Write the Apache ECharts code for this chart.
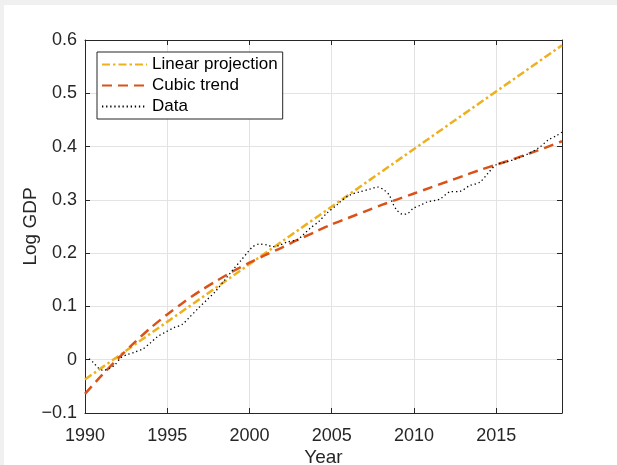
<!DOCTYPE html>
<html><head><meta charset="utf-8">
<script src="https://cdn.jsdelivr.net/npm/echarts@6/dist/echarts.min.js"></script>
<style>
html,body{margin:0;padding:0;background:#f0f0f0;}
#bg{position:absolute;left:4px;top:5px;width:613px;height:460px;background:#fff}
#chart{position:absolute;left:0;top:0;width:617px;height:465px}
</style>
</head><body><div id="bg"></div><div id="chart"></div>
<script>
// ---- data ----
const linearYears = [1990, 2019];
const linearValues = [-0.037, 0.590];

const cubicYears = [1990,1991,1992,1993,1994,1995,1996,1997,1998,1999,2000,2001,2002,2003,2004,2005,2006,2007,2008,2009,2010,2011,2012,2013,2014,2015,2016,2017,2018,2019];
const cubicValues = [-0.064,-0.030,0.002,0.032,0.060,0.085,0.108,0.129,0.148,0.166,0.182,0.197,0.211,0.226,0.240,0.254,0.266,0.278,0.290,0.301,0.312,0.323,0.334,0.345,0.356,0.366,0.376,0.387,0.398,0.410];

const dataYears = [1990.25,1990.5,1990.8,1991.1,1991.5,1991.8,1992.2,1992.6,1993.0,1993.5,1993.95,1994.4,1994.9,1995.4,1995.9,1996.3,1996.9,1997.4,1997.9,1998.5,1999.0,1999.5,1999.9,2000.2,2000.6,2001.1,2001.4,2001.85,2002.3,2002.9,2003.25,2003.7,2004.2,2004.7,2005.3,2005.5,2006.1,2006.7,2007.3,2007.8,2008.2,2008.5,2008.7,2008.95,2009.3,2009.6,2009.95,2010.4,2010.8,2011.3,2011.6,2012.2,2012.8,2013.4,2014.0,2014.5,2015.0,2015.6,2016.3,2017.05,2017.65,2018.15,2018.7,2019.0];
const dataValues = [0.002,-0.005,-0.015,-0.020,-0.016,-0.010,0.004,0.010,0.014,0.020,0.031,0.043,0.052,0.060,0.066,0.078,0.097,0.112,0.127,0.150,0.169,0.187,0.202,0.212,0.217,0.215,0.212,0.215,0.221,0.225,0.234,0.247,0.259,0.275,0.290,0.296,0.309,0.315,0.320,0.324,0.318,0.309,0.294,0.281,0.273,0.274,0.284,0.290,0.296,0.299,0.302,0.315,0.316,0.327,0.333,0.350,0.366,0.371,0.378,0.388,0.399,0.412,0.421,0.427];

const seriesNames = ['Linear projection', 'Cubic trend', 'Data'];
const xTitle = 'Year';
const yTitle = 'Log GDP';

// ---- chart ----
const FONT = 'Liberation Sans, Arial, sans-serif';
const AX = '#262626';
const pairs = (xs, ys) => xs.map((x, i) => [x, ys[i]]);
const chart = echarts.init(document.getElementById('chart'), null, {renderer: 'canvas'});

const axisCommon = {
  axisLine: {show: true, onZero: false, lineStyle: {color: AX, width: 1}},
  axisTick: {show: true, inside: true, length: 5, lineStyle: {color: AX, width: 1}}
};

chart.setOption({
  animation: false,
  backgroundColor: 'transparent',
  grid: {left: 85, right: 55, top: 40, bottom: 52, show: false, containLabel: false, outerBoundsMode: 'none'},
  legend: {
    orient: 'vertical', left: 97, top: 52,
    backgroundColor: '#fff', borderColor: AX, borderWidth: 1, borderRadius: 0,
    padding: [4, 5, 4, 4], itemGap: 4, itemWidth: 45, itemHeight: 14,
    itemStyle: {opacity: 0},
    textStyle: {fontSize: 17, color: '#000', fontFamily: FONT},
    data: seriesNames
  },
  xAxis: [
    Object.assign({
      type: 'value', min: 1990, max: 2019, interval: 5, position: 'bottom',
      name: xTitle, nameLocation: 'middle', nameGap: 35, nameMoveOverlap: false,
      nameTextStyle: {fontSize: 19, color: AX, fontFamily: FONT},
      axisLabel: {fontSize: 18, color: AX, fontFamily: FONT, margin: 14, showMaxLabel: false,
        formatter: v => String(v)},
      splitLine: {show: true, lineStyle: {color: '#e3e3e3', width: 1}}
    }, axisCommon),
    Object.assign({
      type: 'value', min: 1990, max: 2019, interval: 5, position: 'top',
      axisLabel: {show: false}, splitLine: {show: false}
    }, axisCommon)
  ],
  yAxis: [
    Object.assign({
      type: 'value', min: -0.1, max: 0.6, interval: 0.1, position: 'left',
      name: yTitle, nameLocation: 'middle', nameGap: 45, nameMoveOverlap: false,
      nameTextStyle: {fontSize: 19, color: AX, fontFamily: FONT},
      axisLabel: {fontSize: 18, color: AX, fontFamily: FONT, margin: 8,
        formatter: v => String(Math.round(v * 10) / 10).replace('-', '\u2212')},
      splitLine: {show: true, lineStyle: {color: '#e3e3e3', width: 1}}
    }, axisCommon),
    Object.assign({
      type: 'value', min: -0.1, max: 0.6, interval: 0.1, position: 'right',
      axisLabel: {show: false}, splitLine: {show: false}
    }, axisCommon)
  ],
  series: [
    {name: seriesNames[0], type: 'line', data: pairs(linearYears, linearValues), symbol: 'none',
     itemStyle: {color: '#EDB120'}, lineStyle: {color: '#EDB120', width: 2.5, type: [8, 3, 2.5, 3]}},
    {name: seriesNames[1], type: 'line', data: pairs(cubicYears, cubicValues), symbol: 'none', smooth: 0.3,
     itemStyle: {color: '#D95319'}, lineStyle: {color: '#D95319', width: 2.5, type: [10, 6]}},
    {name: seriesNames[2], type: 'line', data: pairs(dataYears, dataValues), symbol: 'none', smooth: 0.3,
     itemStyle: {color: '#000'}, lineStyle: {color: '#000', width: 1.3, type: [1.3, 2.8]}}
  ]
});
</script></body></html>
